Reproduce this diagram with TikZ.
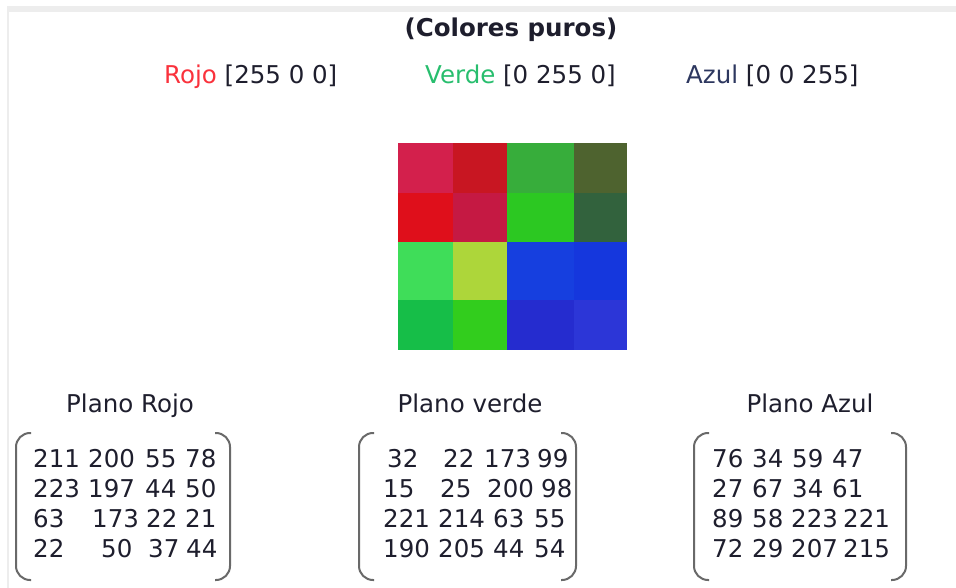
\documentclass[tikz,border=0pt]{standalone}
\usepackage{fontspec}
\setmainfont{DejaVu Sans}
\definecolor{txt}{RGB}{30,30,45}
\definecolor{rojoc}{RGB}{250,50,60}
\definecolor{verdec}{RGB}{40,190,110}
\definecolor{azulc}{RGB}{45,55,95}
\definecolor{brk}{RGB}{105,105,105}
\definecolor{band}{RGB}{237,237,237}
\tikzset{
  lbl/.style={anchor=base, inner sep=0pt, text=txt, font=\fontsize{24.5}{30}\selectfont},
  num/.style={anchor=base west, inner sep=0pt, text=txt, font=\fontsize{24.5}{30}\selectfont},
  brkt/.style={draw=brk, line width=2pt, rounded corners=14pt}
}
\begin{document}
\begin{tikzpicture}[x=1pt,y=-1pt]
\useasboundingbox (0,0) rectangle (956,588);
\fill[white] (0,0) rectangle (956,588);
% frame band
\fill[band] (7,6) rectangle (956,12);
\fill[band] (7,12) rectangle (9,588);
% title
\node[lbl, font=\fontsize{24.5}{30}\selectfont\bfseries] (title) at (511,37) {(Colores puros)};
\node[num] (rojo) at (164,84) {\textcolor{rojoc}{Rojo} [255 0 0]};
\node[num] (verde) at (425,84) {\textcolor{verdec}{Verde} [0 255 0]};
\node[num] (azul) at (686,84) {\textcolor{azulc}{Azul} [0 0 255]};
% pixel image
\def\cx{{398,453,507,574,627}}
\def\ry{{143,193,242,300,350}}
\foreach \r/\c/\R/\G/\B in {
 0/0/211/32/76, 0/1/200/22/34, 0/2/55/173/59, 0/3/78/99/47,
 1/0/223/15/27, 1/1/197/25/67, 1/2/44/200/34, 1/3/50/98/61,
 2/0/63/221/89, 2/1/173/214/58, 2/2/22/63/223, 2/3/21/55/221,
 3/0/22/190/72, 3/1/50/205/29, 3/2/37/44/207, 3/3/44/54/215}{
  \definecolor{pc}{RGB}{\R,\G,\B}
  \pgfmathsetmacro{\xa}{\cx[\c]}
  \pgfmathsetmacro{\xb}{\cx[\c+1]}
  \pgfmathsetmacro{\ya}{\ry[\r]}
  \pgfmathsetmacro{\yb}{\ry[\r+1]}
  \fill[pc] (\xa,\ya) rectangle (\xb,\yb);
}
% plane labels
\node[lbl] (pr) at (130,412) {Plano Rojo};
\node[lbl] (pv) at (470,412) {Plano verde};
\node[lbl] (pa) at (810,412) {Plano Azul};
% brackets
\draw[brkt] (31,433) -- (16,433) -- (16,580) -- (31,580);
\draw[brkt] (215,433) -- (230,433) -- (230,580) -- (215,580);
\draw[brkt] (374,433) -- (359,433) -- (359,580) -- (374,580);
\draw[brkt] (561,433) -- (576,433) -- (576,580) -- (561,580);
\draw[brkt] (709,433) -- (694,433) -- (694,580) -- (709,580);
\draw[brkt] (891,433) -- (906,433) -- (906,580) -- (891,580);
% red plane numbers
\foreach \x/\y/\t in {33/467/211, 88/467/200, 145/467/55, 185/467/78,
  33/497/223, 88/497/197, 145/497/44, 185/497/50,
  33/527/63, 92/527/173, 146/527/22, 185/527/21,
  33/557/22, 101/557/50, 148/557/37, 186/557/44}
  \node[num] at (\x,\y) {\t};
% green plane numbers
\foreach \x/\y/\t in {387/467/32, 443/467/22, 484/467/173, 537/467/99,
  383/497/15, 440/497/25, 487/497/200, 541/497/98,
  383/527/221, 438/527/214, 493/527/63, 534/527/55,
  383/557/190, 438/557/205, 493/557/44, 534/557/54}
  \node[num] at (\x,\y) {\t};
% blue plane numbers
\foreach \x/\y/\t in {712/467/76, 752/467/34, 792/467/59, 832/467/47,
  712/497/27, 752/497/67, 792/497/34, 832/497/61,
  712/527/89, 752/527/58, 791/527/223, 843/527/221,
  712/557/72, 752/557/29, 791/557/207, 843/557/215}
  \node[num] at (\x,\y) {\t};
\end{tikzpicture}
\end{document}
